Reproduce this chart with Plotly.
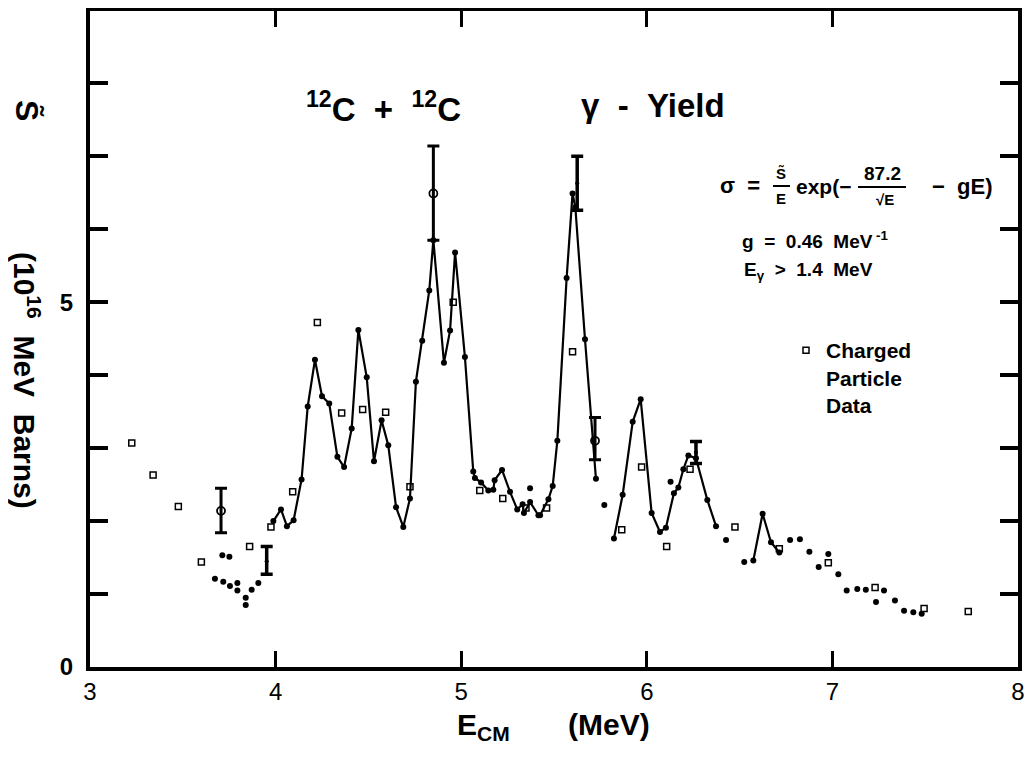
import plotly.graph_objects as go

# Gamma-yield points (filled dots)
gamma_x = [3.673, 3.713, 3.718, 3.751, 3.754, 3.794, 3.794, 3.839, 3.839, 3.871, 3.907,
           3.988, 4.029, 4.061, 4.097, 4.140, 4.173, 4.212, 4.250, 4.289, 4.333, 4.369,
           4.410, 4.446, 4.491, 4.530, 4.571, 4.607, 4.649, 4.688, 4.724, 4.756, 4.790,
           4.828, 4.850, 4.907, 4.940, 4.967, 5.020, 5.065, 5.074, 5.107, 5.146, 5.173,
           5.180, 5.220, 5.263, 5.302, 5.331, 5.338, 5.371, 5.371, 5.416, 5.425, 5.470,
           5.493, 5.518, 5.568, 5.600, 5.615, 5.667, 5.726, 5.771,
           5.823, 5.870, 5.924, 5.967, 6.026, 6.071, 6.103, 6.128, 6.146, 6.170, 6.197,
           6.224, 6.265, 6.326, 6.373, 6.427, 6.525,
           6.574, 6.624, 6.669, 6.714,
           6.772, 6.825, 6.876, 6.926, 6.978, 7.032, 7.077, 7.134, 7.180, 7.235, 7.278,
           7.337, 7.386, 7.436, 7.481]
gamma_y = [1.21, 1.53, 1.17, 1.51, 1.11, 1.15, 1.05, 0.95, 0.85, 1.06, 1.15,
           2.00, 2.16, 1.93, 2.01, 2.57, 3.57, 4.21, 3.71, 3.61, 2.88, 2.74,
           3.27, 4.62, 3.97, 2.82, 3.38, 3.04, 2.19, 1.92, 2.31, 3.91, 4.47,
           5.16, 5.85, 4.17, 4.61, 5.68, 4.25, 2.68, 2.59, 2.53, 2.42, 2.43,
           2.56, 2.70, 2.40, 2.16, 2.23, 2.11, 2.45, 2.26, 2.08, 2.08, 2.30,
           2.48, 3.10, 5.33, 6.49, 6.30, 4.49, 2.58, 2.22,
           1.76, 2.36, 3.36, 3.67, 2.11, 1.85, 1.91, 2.54, 2.38, 2.46, 2.71,
           2.90, 2.86, 2.29, 1.93, 1.74, 1.44,
           1.46, 2.10, 1.71, 1.57,
           1.74, 1.75, 1.58, 1.37, 1.55, 1.27, 1.05, 1.07, 1.06, 0.89, 1.05,
           0.91, 0.77, 0.75, 0.73]

# Hand-drawn connecting curve (three separate pieces)
curve1_x = [3.988, 4.029, 4.061, 4.097, 4.140, 4.173, 4.212, 4.250, 4.289, 4.333, 4.369,
            4.410, 4.446, 4.491, 4.530, 4.571, 4.607, 4.649, 4.688, 4.724, 4.756, 4.790,
            4.828, 4.850, 4.907, 4.940, 4.967, 5.020, 5.065, 5.074, 5.107, 5.146, 5.173,
            5.180, 5.220, 5.263, 5.302, 5.331, 5.338, 5.371, 5.416, 5.425, 5.470,
            5.493, 5.518, 5.568, 5.600, 5.615, 5.667, 5.726]
curve1_y = [2.00, 2.16, 1.93, 2.01, 2.57, 3.57, 4.21, 3.71, 3.61, 2.88, 2.74,
            3.27, 4.62, 3.97, 2.82, 3.38, 3.04, 2.19, 1.92, 2.31, 3.91, 4.47,
            5.16, 5.85, 4.17, 4.61, 5.68, 4.25, 2.68, 2.59, 2.53, 2.42, 2.43,
            2.56, 2.70, 2.40, 2.16, 2.23, 2.11, 2.26, 2.08, 2.08, 2.30,
            2.48, 3.10, 5.33, 6.49, 6.30, 4.49, 2.58]
curve2_x = [5.823, 5.870, 5.924, 5.967, 6.026, 6.071, 6.103, 6.146, 6.170, 6.197,
            6.224, 6.265, 6.326, 6.373]
curve2_y = [1.76, 2.36, 3.36, 3.67, 2.11, 1.85, 1.91, 2.38, 2.46, 2.71,
            2.90, 2.86, 2.29, 1.93]
curve3_x = [6.574, 6.624, 6.669, 6.714]
curve3_y = [1.46, 2.10, 1.71, 1.57]

# Charged particle data (small open squares)
charged_x = [3.225, 3.340, 3.476, 3.600, 3.860, 3.975, 4.092, 4.225, 4.356, 4.469,
             4.593, 4.724, 4.957, 5.100, 5.224, 5.349, 5.460, 5.600, 5.865, 5.972,
             6.107, 6.233, 6.475, 6.714, 6.978, 7.230, 7.494, 7.732]
charged_y = [3.07, 2.63, 2.20, 1.44, 1.65, 1.92, 2.40, 4.72, 3.48, 3.53,
             3.49, 2.47, 5.00, 2.42, 2.31, 2.18, 2.18, 4.32, 1.88, 2.74,
             1.65, 2.71, 1.92, 1.62, 1.43, 1.09, 0.80, 0.76]

# Points with error bars (open circles)
err_open_x = [3.706, 4.850, 5.721]
err_open_y = [2.14, 6.49, 3.10]
err_open_up = [0.31, 0.65, 0.32]
err_open_dn = [0.30, 0.64, 0.26]
# Points with error bars (no circle)
err_solid_x = [3.952, 5.625, 6.265]
err_solid_y = [1.45, 6.63, 2.94]
err_solid_up = [0.20, 0.37, 0.15]
err_solid_dn = [0.18, 0.37, 0.15]

x_ticks = [3, 4, 5, 6, 7, 8]
y_major_ticks = [0, 5]
y_major_text = ["0", "5"]

FONT = "Liberation Sans, Arial, sans-serif"
fig = go.Figure()

for cx, cy in [(curve1_x, curve1_y), (curve2_x, curve2_y), (curve3_x, curve3_y)]:
    fig.add_trace(go.Scatter(x=cx, y=cy, mode="lines", showlegend=False,
                             line=dict(color="black", width=2.2), hoverinfo="skip"))

fig.add_trace(go.Scatter(x=gamma_x, y=gamma_y, mode="markers", showlegend=False,
                         marker=dict(color="black", size=6), name="gamma"))

fig.add_trace(go.Scatter(x=charged_x, y=charged_y, mode="markers", showlegend=True,
                         marker=dict(symbol="square-open", color="black", size=6,
                                     line=dict(width=1.5)),
                         name="<b>Charged<br>Particle<br>Data</b>"))

fig.add_trace(go.Scatter(x=err_open_x, y=err_open_y, mode="markers", showlegend=False,
                         marker=dict(symbol="circle-open", color="black", size=8,
                                     line=dict(width=1.8)),
                         error_y=dict(type="data", array=err_open_up,
                                      arrayminus=err_open_dn, color="black",
                                      thickness=3, width=6)))
fig.add_trace(go.Scatter(x=err_solid_x, y=err_solid_y, mode="markers", showlegend=False,
                         marker=dict(symbol="circle", color="black", size=4),
                         error_y=dict(type="data", array=err_solid_up,
                                      arrayminus=err_solid_dn, color="black",
                                      thickness=3.5, width=6)))

# page pixel -> data helpers (plot area spans page px 90..1018, 11..667)
PX0, PX1, PY0, PY1 = 90, 1018, 11, 667


def px2x(px):
    return 3 + (px - PX0) * 5.0 / (PX1 - PX0)


def py2y(py):
    return (PY1 - py) * 8.99 / (PY1 - PY0)


def txt(px, py, text, size, xanchor="center", angle=0):
    fig.add_annotation(x=px2x(px), y=py2y(py), xref="x", yref="y", text=text,
                       showarrow=False, xanchor=xanchor, yanchor="middle",
                       textangle=angle,
                       font=dict(family=FONT, size=size, color="black"))


def ptxt(px, py, text, size, angle=0):
    fig.add_annotation(x=(px - PX0) / (PX1 - PX0), y=(PY1 - py) / (PY1 - PY0),
                       xref="paper", yref="paper", text=text, showarrow=False,
                       xanchor="center", yanchor="middle", textangle=angle,
                       font=dict(family=FONT, size=size, color="black"))


txt(383, 107, "<b><sup>12</sup>C  +  <sup>12</sup>C</b>", 33)
txt(653, 105, "<b>γ  -  Yield</b>", 33)

# formula
txt(740, 185, "<b>σ  =</b>", 22)
txt(781, 173, "<b>S\u0303</b>", 15)
txt(781, 198, "<b>E</b>", 15)
txt(823, 186, "<b>exp(−</b>", 21)
txt(882, 173, "<b>87.2</b>", 19)
txt(885, 199, "<b>√E</b>", 15)
txt(962, 186, "<b>−  gE)</b>", 22)
fig.add_shape(type="line", x0=px2x(773), x1=px2x(790), y0=py2y(186), y1=py2y(186),
              line=dict(color="black", width=2))
fig.add_shape(type="line", x0=px2x(858), x1=px2x(906), y0=py2y(187), y1=py2y(187),
              line=dict(color="black", width=2))

txt(815, 240, "<b>g  =  0.46  MeV<sup> -1</sup></b>", 19)
txt(808, 271, "<b>E<sub>γ</sub>  >  1.4  MeV</b>", 19)

# axis titles
ptxt(553, 726, "<b>E<sub>CM</sub>       (MeV)</b>", 30)
ptxt(27, 110, "<b>S\u0303</b>", 32, angle=90)
ptxt(27, 380, "<b>(10<sup>16</sup>  MeV  Barns)</b>", 30, angle=90)

fig.update_xaxes(range=[3, 8], tickvals=x_ticks, ticks="inside", ticklen=16,
                 tickwidth=3, tickcolor="black", showline=True, linewidth=4,
                 linecolor="black", mirror="ticks", showgrid=False, zeroline=False,
                 tickfont=dict(family=FONT, size=24, color="black"),
                 tickprefix="<b>", ticksuffix="</b>")
fig.update_yaxes(range=[0, 8.99], tickvals=y_major_ticks,
                 ticktext=["<b>" + t + "</b>" for t in y_major_text],
                 ticks="inside", ticklen=18, tickwidth=3.5, tickcolor="black",
                 showline=True, linewidth=4, linecolor="black", mirror="ticks",
                 showgrid=False, zeroline=False, ticklabelstandoff=8,
                 minor=dict(dtick=1, ticks="inside", ticklen=18, tickwidth=3.5,
                            tickcolor="black", showgrid=False),
                 tickfont=dict(family=FONT, size=24, color="black"))

# browser body margin of 8px offsets the figure; compensate in size and margins
W, H, OFF = 1027, 749, 8
fig.update_layout(width=W, height=H, showlegend=True,
                  plot_bgcolor="white", paper_bgcolor="white",
                  legend=dict(x=(786 - PX0) / (PX1 - PX0), y=(PY1 - 330) / (PY1 - PY0),
                              xanchor="left", yanchor="top",
                              bgcolor="rgba(0,0,0,0)", valign="top",
                              font=dict(family=FONT, size=21, color="black"),
                              itemwidth=30, tracegroupgap=0),
                  margin=dict(l=PX0 - OFF, r=W - (PX1 - OFF), t=PY0 - OFF,
                              b=H - (PY1 - OFF), autoexpand=False))

fig.write_html("out.html")
